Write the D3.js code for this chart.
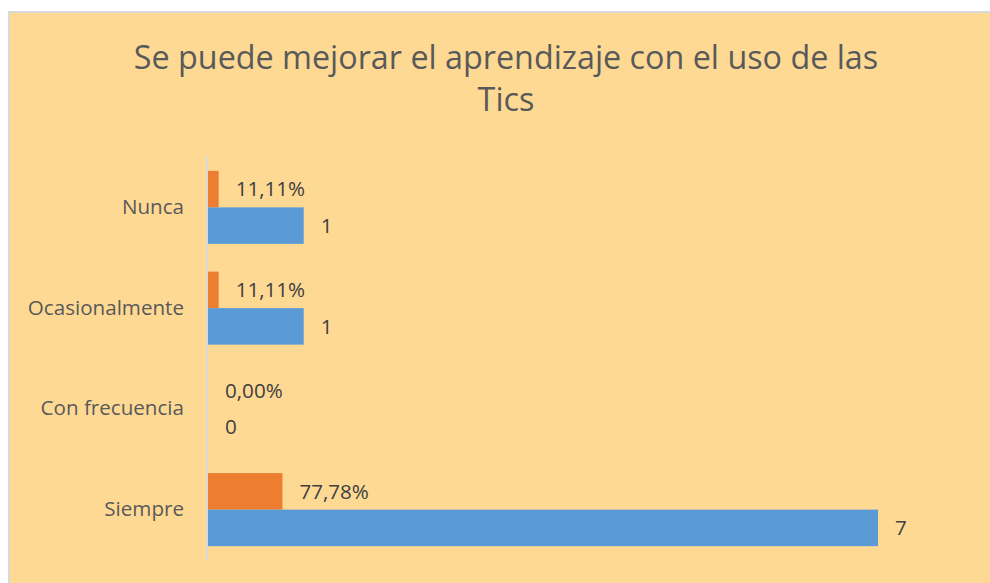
<!DOCTYPE html>
<html><head><meta charset="utf-8">
<script src="https://cdn.jsdelivr.net/npm/d3@7"></script>
<style>body{margin:0;background:#fff;} svg{display:block;font-family:"Open Sans",sans-serif;}</style>
</head><body>
<svg id="chart" width="990" height="583"></svg>
<script>
const categories = ["Nunca", "Ocasionalmente", "Con frecuencia", "Siempre"];
const counts = [1, 1, 0, 7];
const percents = [0.1111, 0.1111, 0, 0.7778];
const titleLines = ["Se puede mejorar el aprendizaje con el uso de las", "Tics"];

const svg = d3.select("#chart");
svg.append("rect").attr("x", 9).attr("y", 12).attr("width", 1000).attr("height", 600)
  .attr("fill", "#FED994").attr("stroke", "#D9D9D9").attr("stroke-width", 2);

svg.append("text").attr("x", 506).attr("y", 69).attr("text-anchor", "middle")
  .attr("fill", "#595959").attr("font-size", 32.3)
  .selectAll("tspan").data(titleLines).join("tspan")
  .attr("x", 506).attr("dy", (d, i) => i === 0 ? 0 : 42).text(d => d);

const x = d3.scaleLinear().domain([0, 7]).range([208, 878]);
const y = d3.scaleBand().domain(categories).range([157, 560]).paddingInner(0.275).paddingOuter(0.1375);
const sub = d3.scaleBand().domain(["pct", "cnt"]).range([0, y.bandwidth()]);

svg.append("line").attr("x1", 207).attr("x2", 207).attr("y1", 157).attr("y2", 560)
  .attr("stroke", "#D9D9D9").attr("stroke-width", 2);

const yAxis = d3.axisLeft(y).tickSize(0).tickPadding(23);
const ga = svg.append("g").attr("transform", "translate(207,0)").call(yAxis);
ga.select(".domain").remove();
ga.selectAll("text").attr("fill", "#595959").attr("font-size", 20.6).attr("font-family", "'Open Sans',sans-serif");

const rows = categories.map((c, i) => ({c, cnt: counts[i], pct: percents[i]}));

const g = svg.append("g");
g.selectAll("rect.pct").data(rows).join("rect").attr("class", "pct")
  .attr("x", x(0)).attr("y", d => y(d.c) + sub("pct"))
  .attr("width", d => x(d.pct) - x(0)).attr("height", sub.bandwidth())
  .attr("fill", "#ED7D31");
g.selectAll("rect.cnt").data(rows).join("rect").attr("class", "cnt")
  .attr("x", x(0)).attr("y", d => y(d.c) + sub("cnt"))
  .attr("width", d => x(d.cnt) - x(0)).attr("height", sub.bandwidth())
  .attr("fill", "#5B9BD5");

const fmtPct = v => d3.format(".2f")(v * 100).replace(".", ",") + "%";
g.selectAll("text.pct").data(rows).join("text").attr("class", "pct")
  .attr("x", d => x(d.pct) + 17).attr("y", d => y(d.c) + sub("pct") + sub.bandwidth() / 2)
  .attr("dy", "0.35em").attr("fill", "#404040").attr("font-size", 20.6).text(d => fmtPct(d.pct));
g.selectAll("text.cnt").data(rows).join("text").attr("class", "cnt")
  .attr("x", d => x(d.cnt) + 17).attr("y", d => y(d.c) + sub("cnt") + sub.bandwidth() / 2)
  .attr("dy", "0.35em").attr("fill", "#404040").attr("font-size", 20.6).text(d => d.cnt);
</script>
</body></html>
